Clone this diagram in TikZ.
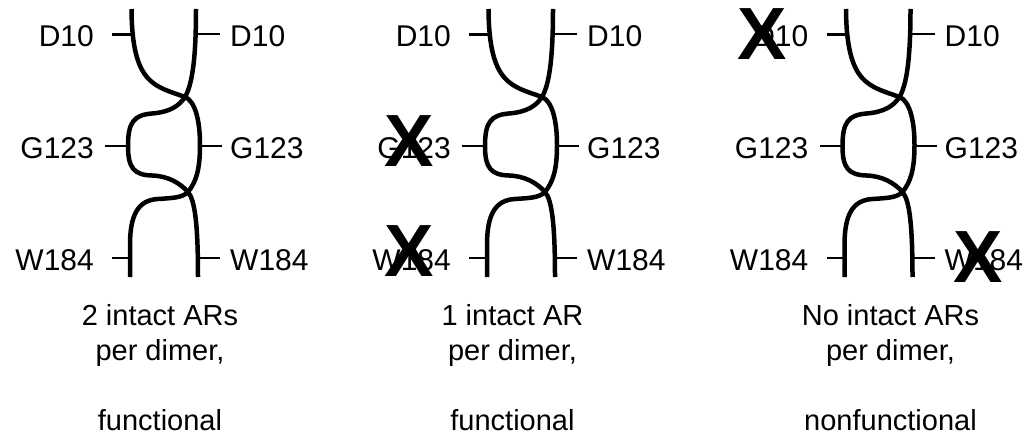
\documentclass[tikz,border=0pt]{standalone}
\usepackage{fontspec}
\setmainfont{Liberation Sans}
\begin{document}
\begin{tikzpicture}[x=1pt,y=-1pt,
  strand/.style={line width=4.5pt},
  tickline/.style={line width=2.6pt},
  lab/.style={inner sep=0pt,font=\fontsize{30}{35}\selectfont},
  capline/.style={inner sep=0pt,anchor=base,font=\fontsize{29}{35}\selectfont},
  cross/.style={inner sep=0pt,font=\fontsize{74}{74}\selectfont\bfseries}]
\useasboundingbox (0,0) rectangle (1033,441);
\foreach \p/\dx/\cx/\ta/\tc in {1/0/160/{2 intact ARs}/{functional},
                                2/357/512.5/{1 intact AR}/{functional},
                                3/714.5/890.5/{No intact ARs}/{nonfunctional}}{
  \begin{scope}[xshift=\dx]
    % strands of the dimer
    \draw[strand] (131.5,9) .. controls (132,85) and (155,86) .. (185,97)
      .. controls (195,101) and (200,120) .. (200,145)
      .. controls (200,170) and (196,182) .. (188,192)
      .. controls (182,198) and (172,198) .. (158,199)
      .. controls (138,200) and (130,215) .. (130,245) -- (130,277);
    \draw[strand] (196,9) .. controls (196,60) and (192,85) .. (185,97)
      .. controls (179,106) and (170,112) .. (152,113.5)
      .. controls (134,115) and (128,122) .. (128,146)
      .. controls (128,168) and (134,175) .. (152,175.5)
      .. controls (168,176) and (180,183) .. (188,192)
      .. controls (195,200) and (198,225) .. (198,277);
    % residue labels
    \node[lab,anchor=base east] (dl\p) at (94,47) {D10};
    \node[lab,anchor=base east] (gl\p) at (94,158.5) {G123};
    \node[lab,anchor=base east] (wl\p) at (94,270.5) {W184};
    \node[lab,anchor=base west] (dr\p) at (230,47) {D10};
    \node[lab,anchor=base west] (gr\p) at (230,158.5) {G123};
    \node[lab,anchor=base west] (wr\p) at (230,270.5) {W184};
    % ticks
    \coordinate (tdl\p) at (112,34.5);  \coordinate (sdl\p) at (132,34.5);
    \coordinate (tgl\p) at (105,146);   \coordinate (sgl\p) at (128,146);
    \coordinate (twl\p) at (112,258);   \coordinate (swl\p) at (130,258);
    \coordinate (tdr\p) at (220,34);    \coordinate (sdr\p) at (196,34);
    \coordinate (tgr\p) at (222,146);   \coordinate (sgr\p) at (200,146);
    \coordinate (twr\p) at (220,258);   \coordinate (swr\p) at (198,258);
    \draw[tickline] (tdl\p) -- (sdl\p);
    \draw[tickline] (tgl\p) -- (sgl\p);
    \draw[tickline] (twl\p) -- (swl\p);
    \draw[tickline] (sdr\p) -- (tdr\p);
    \draw[tickline] (sgr\p) -- (tgr\p);
    \draw[tickline] (swr\p) -- (twr\p);
  \end{scope}
  % captions
  \node[capline] (ca\p) at (\cx,325) {\ta};
  \node[capline] (cb\p) at (\cx,360) {per dimer,};
  \node[capline] (cc\p) at (\cx,430) {\tc};
}
% mutation marks
\node[cross] (x1) at (409,141) {X};
\node[cross] (x2) at (409,251) {X};
\node[cross] (x3) at (762.5,34) {X};
\node[cross] (x4) at (978.5,257.5) {X};
\end{tikzpicture}
\end{document}
